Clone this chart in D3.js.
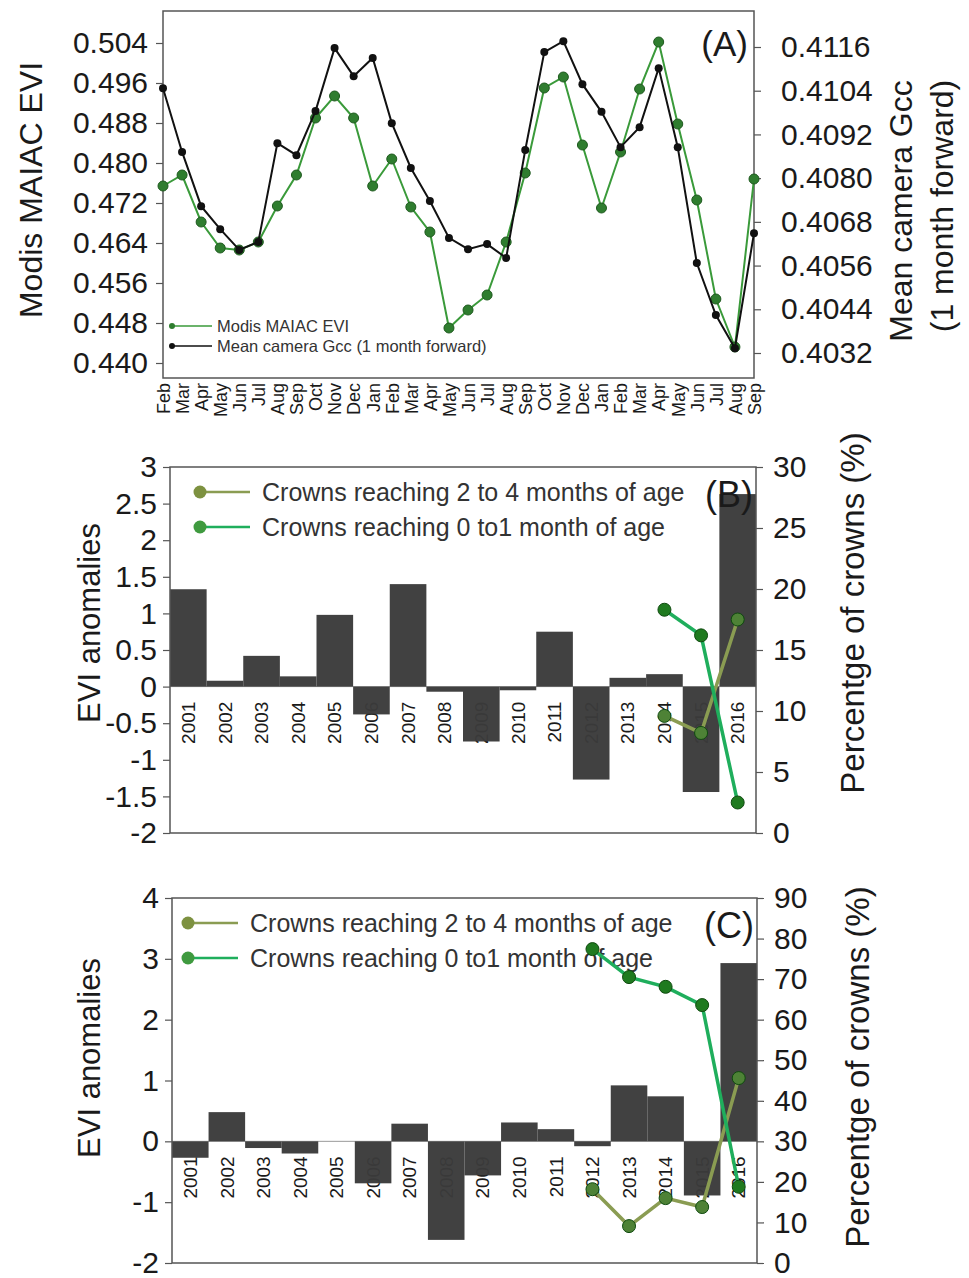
<!DOCTYPE html>
<html>
<head>
<meta charset="utf-8">
<script src="https://cdn.jsdelivr.net/npm/d3@7/dist/d3.min.js"></script>
<style>
  body { margin: 0; background: #fff; }
  svg { font-family: "Liberation Sans", Arial, sans-serif; }
</style>
</head>
<body>
<div id="chart"></div>
<script>
// ---- data ----
var months = ['Feb','Mar','Apr','May','Jun','Jul','Aug','Sep','Oct','Nov','Dec','Jan',
              'Feb','Mar','Apr','May','Jun','Jul','Aug','Sep','Oct','Nov','Dec','Jan',
              'Feb','Mar','Apr','May','Jun','Jul','Aug','Sep'];
var eviValues = [0.4754,0.4776,0.4682,0.4630,0.4626,0.4642,0.4714,0.4776,0.4890,0.4934,0.4890,0.4754,
                 0.4808,0.4712,0.4662,0.4470,0.4506,0.4536,0.4642,0.4780,0.4950,0.4972,0.4836,0.4710,
                 0.4822,0.4948,0.5042,0.4878,0.4726,0.4528,0.4432,0.4768];
var gccValues = [0.41047,0.40872,0.40723,0.40660,0.40603,0.40625,0.40896,0.40863,0.40984,0.41157,0.41080,0.41130,
                 0.40951,0.40828,0.40737,0.40636,0.40605,0.40619,0.40581,0.40877,0.41146,0.41176,0.41058,0.40982,
                 0.40885,0.40940,0.41102,0.40885,0.40567,0.40424,0.40333,0.40649];
var eviTicks = [0.440,0.448,0.456,0.464,0.472,0.480,0.488,0.496,0.504];
var gccTicks = [0.4032,0.4044,0.4056,0.4068,0.4080,0.4092,0.4104,0.4116];

var years = ['2001','2002','2003','2004','2005','2006','2007','2008',
             '2009','2010','2011','2012','2013','2014','2015','2016'];
var anomB = [1.33,0.08,0.42,0.14,0.98,-0.38,1.40,-0.07,-0.75,-0.05,0.75,-1.27,0.12,0.17,-1.44,2.63];
var anomC = [-0.27,0.48,-0.11,-0.20,0.0,-0.69,0.29,-1.62,-0.56,0.31,0.20,-0.08,0.92,0.74,-0.89,2.93];
var ticksB = [-2,-1.5,-1,-0.5,0,0.5,1,1.5,2,2.5,3];
var ticksPB = [0,5,10,15,20,25,30];
var ticksC = [-2,-1,0,1,2,3,4];
var ticksPC = [0,10,20,30,40,50,60,70,80,90];

var lineYearsB = ['2014','2015','2016'];
var crowns24B = [9.6,8.2,17.5];
var crowns01B = [18.3,16.2,2.5];
var lineYearsC = ['2012','2013','2014','2015','2016'];
var crowns24C = [18.2,9.1,16.0,13.8,45.6];
var crowns01C = [77.4,70.5,68.1,63.6,18.8];

var legendLabels = ['Crowns reaching 2 to 4 months of age','Crowns reaching 0 to1 month of age'];

// colours
var evigreen = '#3a9a3a', olive = '#8a9c52', brightgreen = '#1fae5c', barcol = '#3b3b3b', framecol = '#555';

var svg = d3.select('#chart').append('svg')
    .attr('width', 969).attr('height', 1278);

// small helper to style an axis group
function styleAxis(g, fs) {
    g.select('.domain').remove();
    g.selectAll('.tick line').attr('stroke', framecol).attr('stroke-width', 1.2);
    g.selectAll('.tick text').attr('font-size', fs).attr('fill', '#1a1a1a')
        .attr('font-family', '"Liberation Sans", Arial, sans-serif');
}

function vTitle(x, y, txt, fs) {
    svg.append('text')
        .attr('transform', 'translate(' + x + ',' + y + ') rotate(-90)')
        .attr('text-anchor', 'middle')
        .attr('font-size', fs).attr('fill', '#1a1a1a')
        .text(txt);
}

// ================= PANEL A =================
var aL = 163, aR = 754, aT = 11, aB = 378;
var xA = d3.scalePoint().domain(d3.range(months.length)).range([aL, aR]);
var yEvi = d3.scaleLinear().domain([0.448, 0.504]).range([323, 43]);
var yGcc = d3.scaleLinear().domain([0.4032, 0.4116]).range([353, 47]);

svg.append('g').attr('transform', 'translate(' + aL + ',0)')
    .call(d3.axisLeft(yEvi).tickValues(eviTicks).tickFormat(d3.format('.3f')).tickSize(7).tickPadding(8))
    .call(styleAxis, 30);

svg.append('g').attr('transform', 'translate(' + aR + ',0)')
    .call(d3.axisRight(yGcc).tickValues(gccTicks).tickFormat(d3.format('.4f')).tickSize(7).tickPadding(20))
    .call(styleAxis, 30);

var xAxisA = svg.append('g').attr('transform', 'translate(0,' + aB + ')')
    .call(d3.axisBottom(xA).tickSize(0).tickFormat(function(i) { return months[i]; }));
styleAxis(xAxisA, 18);
xAxisA.selectAll('.tick text')
    .attr('transform', 'rotate(-90)')
    .attr('text-anchor', 'end')
    .attr('x', -5).attr('y', 0).attr('dy', '0.35em');

svg.append('rect').attr('x', aL).attr('y', aT).attr('width', aR - aL).attr('height', aB - aT)
    .attr('fill', 'none').attr('stroke', framecol).attr('stroke-width', 1.5);

var lineEvi = d3.line().x(function(d, i) { return xA(i); }).y(function(d) { return yEvi(d); });
var lineGcc = d3.line().x(function(d, i) { return xA(i); }).y(function(d) { return yGcc(d); });

svg.append('path').datum(eviValues).attr('d', lineEvi)
    .attr('fill', 'none').attr('stroke', evigreen).attr('stroke-width', 2);
svg.selectAll('.evidot').data(eviValues).enter().append('circle')
    .attr('class', 'evidot')
    .attr('cx', function(d, i) { return xA(i); })
    .attr('cy', function(d) { return yEvi(d); })
    .attr('r', 5).attr('fill', '#2f7d2f').attr('stroke', '#1f5a1f').attr('stroke-width', 1);

svg.append('path').datum(gccValues).attr('d', lineGcc)
    .attr('fill', 'none').attr('stroke', '#111').attr('stroke-width', 2);
svg.selectAll('.gccdot').data(gccValues).enter().append('circle')
    .attr('class', 'gccdot')
    .attr('cx', function(d, i) { return xA(i); })
    .attr('cy', function(d) { return yGcc(d); })
    .attr('r', 4).attr('fill', '#111');

// legend A
var legA = [{t: 'Modis MAIAC EVI', c: evigreen, m: '#2f7d2f', y: 326},
            {t: 'Mean camera Gcc (1 month forward)', c: '#111', m: '#111', y: 346}];
legA.forEach(function(l) {
    svg.append('line').attr('x1', 171).attr('x2', 212).attr('y1', l.y).attr('y2', l.y)
        .attr('stroke', l.c).attr('stroke-width', 1.5);
    svg.append('circle').attr('cx', 172).attr('cy', l.y).attr('r', 3).attr('fill', l.m);
    svg.append('text').attr('x', 217).attr('y', l.y).attr('dy', '0.35em')
        .attr('font-size', 16.5).attr('fill', '#333').text(l.t);
});

svg.append('text').attr('x', 748).attr('y', 56).attr('text-anchor', 'end')
    .attr('font-size', 35).attr('fill', '#1a1a1a').text('(A)');

vTitle(42, 190, 'Modis MAIAC EVI', 32);
vTitle(912, 211, 'Mean camera Gcc', 32);
vTitle(953, 206, '(1 month forward)', 32);

// ================= PANELS B & C =================
function barPanel(p) {
    var x = d3.scaleBand().domain(years).range([p.L, p.R]).padding(0);
    var y = d3.scaleLinear().domain(p.yDom).range([p.B, p.T]);
    var yP = d3.scaleLinear().domain(p.pDom).range([p.B, p.T]);

    svg.append('g').attr('transform', 'translate(' + p.L + ',0)')
        .call(d3.axisLeft(y).tickValues(p.ticks).tickFormat(function(d) { return String(d); }).tickSize(7).tickPadding(6))
        .call(styleAxis, 30);
    svg.append('g').attr('transform', 'translate(' + p.R + ',0)')
        .call(d3.axisRight(yP).tickValues(p.pticks).tickFormat(function(d) { return String(d); }).tickSize(7).tickPadding(10))
        .call(styleAxis, 30);

    // zero line
    svg.append('line').attr('x1', p.L).attr('x2', p.R).attr('y1', y(0)).attr('y2', y(0))
        .attr('stroke', '#999').attr('stroke-width', 1);

    // year labels under the zero line
    svg.selectAll('.yr' + p.id).data(years).enter().append('text')
        .attr('class', 'yr' + p.id)
        .attr('transform', function(d) { return 'translate(' + (x(d) + x.bandwidth() / 2) + ',' + (y(0) + 15) + ') rotate(-90)'; })
        .attr('text-anchor', 'end').attr('dy', '0.35em')
        .attr('font-size', 19).attr('fill', '#1a1a1a')
        .text(function(d) { return d; });

    svg.selectAll('.bar' + p.id).data(p.anom).enter().append('rect')
        .attr('class', 'bar' + p.id)
        .attr('x', function(d, i) { return x(years[i]); })
        .attr('width', x.bandwidth())
        .attr('y', function(d) { return y(Math.max(0, d)); })
        .attr('height', function(d) { return Math.abs(y(d) - y(0)); })
        .attr('fill', barcol).attr('fill-opacity', 0.97);

    svg.append('rect').attr('x', p.L).attr('y', p.T).attr('width', p.R - p.L).attr('height', p.B - p.T)
        .attr('fill', 'none').attr('stroke', framecol).attr('stroke-width', 1.5);

    // legend
    var legY = [p.T + 25, p.T + 60];
    var legC = [olive, brightgreen];
    var legM = ['#7d9140', '#3f9a3f'];
    legY.forEach(function(ly, k) {
        svg.append('line').attr('x1', p.legX).attr('x2', p.legX + 50).attr('y1', ly).attr('y2', ly)
            .attr('stroke', legC[k]).attr('stroke-width', 2.5);
        svg.append('circle').attr('cx', p.legX).attr('cy', ly).attr('r', 6.5).attr('fill', legM[k]);
        svg.append('text').attr('x', p.legX + 62).attr('y', ly).attr('dy', '0.35em')
            .attr('font-size', 25).attr('fill', '#333').text(legendLabels[k]);
    });

    svg.append('text').attr('x', p.R - 3).attr('y', p.T + 40).attr('text-anchor', 'end')
        .attr('font-size', 36).attr('fill', '#1a1a1a').text(p.label);

    // crown percentage lines
    var cx = function(yr) { return x(yr) + x.bandwidth() / 2; };
    var series = [{v: p.c24, c: olive, m: '#4e8236'}, {v: p.c01, c: brightgreen, m: '#1f7a1f'}];
    series.forEach(function(s) {
        var ln = d3.line().x(function(d, i) { return cx(p.lineYears[i]); }).y(function(d) { return yP(d); });
        svg.append('path').datum(s.v).attr('d', ln)
            .attr('fill', 'none').attr('stroke', s.c).attr('stroke-width', 3.5);
        svg.selectAll(null).data(s.v).enter().append('circle')
            .attr('cx', function(d, i) { return cx(p.lineYears[i]); })
            .attr('cy', function(d) { return yP(d); })
            .attr('r', 6.5).attr('fill', s.m).attr('stroke', '#0f4a0f').attr('stroke-width', 1);
    });

    vTitle(100, p.titleL, 'EVI anomalies', 31);
    vTitle(p.titleRx, p.titleR, 'Percentge of crowns (%)', 33);
}

barPanel({id: 'B', L: 170, R: 756, T: 467, B: 833, yDom: [-2, 3], pDom: [0, 30],
          ticks: ticksB, pticks: ticksPB, anom: anomB, legX: 200, label: '(B)',
          lineYears: lineYearsB, c24: crowns24B, c01: crowns01B,
          titleL: 623, titleR: 613, titleRx: 864});

barPanel({id: 'C', L: 172, R: 757, T: 898, B: 1263, yDom: [-2, 4], pDom: [0, 90],
          ticks: ticksC, pticks: ticksPC, anom: anomC, legX: 188, label: '(C)',
          lineYears: lineYearsC, c24: crowns24C, c01: crowns01C,
          titleL: 1058, titleR: 1067, titleRx: 869});
</script>
</body>
</html>
